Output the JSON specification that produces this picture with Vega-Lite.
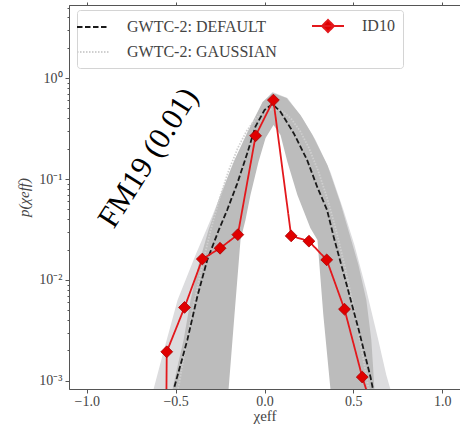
{
  "$schema": "https://vega.github.io/schema/vega-lite/v6.json",
  "autosize": "none",
  "width": 391,
  "height": 384,
  "padding": {"left": 69, "top": 5, "right": 0, "bottom": 38},
  "background": "white",
  "config": {
    "view": {"stroke": null},
    "axis": {"grid": false, "zindex": 1, "labelFont": "Liberation Serif", "titleFont": "Liberation Serif", "labelFontSize": 14, "titleFontSize": 15, "titleFontWeight": "normal", "labelColor": "#444", "titleColor": "#444", "tickColor": "#555", "domainColor": "#555"},
    "legend": {"orient": "none", "legendX": 8, "legendY": 5, "columns": 2, "columnPadding": 31, "rowPadding": 8, "padding": 8, "symbolSize": 100, "symbolStrokeWidth": 2, "labelFont": "Liberation Serif", "labelFontSize": 16, "labelColor": "#444", "labelOffset": 26, "strokeColor": "#d4d4d4", "fillColor": "white", "cornerRadius": 3}
  },
  "datasets": {
    "bands": [
      {"band": "light", "x": -0.635, "p": 0.00073}, {"band": "light", "x": -0.624, "p": 0.00083}, {"band": "light", "x": -0.573, "p": 0.00181}, {"band": "light", "x": -0.489, "p": 0.00634}, {"band": "light", "x": -0.388, "p": 0.0177}, {"band": "light", "x": -0.292, "p": 0.044}, {"band": "light", "x": -0.191, "p": 0.123}, {"band": "light", "x": -0.096, "p": 0.292}, {"band": "light", "x": -0.011, "p": 0.565}, {"band": "light", "x": 0.045, "p": 0.726}, {"band": "light", "x": 0.129, "p": 0.634}, {"band": "light", "x": 0.213, "p": 0.402}, {"band": "light", "x": 0.287, "p": 0.243}, {"band": "light", "x": 0.371, "p": 0.117}, {"band": "light", "x": 0.444, "p": 0.0493}, {"band": "light", "x": 0.506, "p": 0.0222}, {"band": "light", "x": 0.573, "p": 0.00796}, {"band": "light", "x": 0.64, "p": 0.00255}, {"band": "light", "x": 0.685, "p": 0.00115}, {"band": "light", "x": 0.708, "p": 0.00083}, {"band": "light", "x": 0.72, "p": 0.00073},
      {"band": "dark", "x": -0.528, "p": 0.00073}, {"band": "dark", "x": -0.517, "p": 0.00083}, {"band": "dark", "x": -0.494, "p": 0.00128}, {"band": "dark", "x": -0.455, "p": 0.00255}, {"band": "dark", "x": -0.416, "p": 0.00634}, {"band": "dark", "x": -0.371, "p": 0.0141}, {"band": "dark", "x": -0.315, "p": 0.0313}, {"band": "dark", "x": -0.247, "p": 0.0694}, {"band": "dark", "x": -0.169, "p": 0.154}, {"band": "dark", "x": -0.084, "p": 0.32}, {"band": "dark", "x": -0.011, "p": 0.578}, {"band": "dark", "x": 0.045, "p": 0.71}, {"band": "dark", "x": 0.124, "p": 0.634}, {"band": "dark", "x": 0.202, "p": 0.43}, {"band": "dark", "x": 0.27, "p": 0.273}, {"band": "dark", "x": 0.354, "p": 0.138}, {"band": "dark", "x": 0.427, "p": 0.0578}, {"band": "dark", "x": 0.483, "p": 0.0267}, {"band": "dark", "x": 0.528, "p": 0.0141}, {"band": "dark", "x": 0.573, "p": 0.00634}, {"band": "dark", "x": 0.601, "p": 0.00255}, {"band": "dark", "x": 0.612, "p": 0.00128}, {"band": "dark", "x": 0.618, "p": 0.00083}, {"band": "dark", "x": 0.624, "p": 0.00073},
      {"band": "lower", "x": -0.213, "p": 0.00073}, {"band": "lower", "x": -0.202, "p": 0.00083}, {"band": "lower", "x": -0.169, "p": 0.0045}, {"band": "lower", "x": -0.135, "p": 0.0249}, {"band": "lower", "x": -0.107, "p": 0.0393}, {"band": "lower", "x": -0.079, "p": 0.0694}, {"band": "lower", "x": -0.034, "p": 0.147}, {"band": "lower", "x": 0.006, "p": 0.255}, {"band": "lower", "x": 0.051, "p": 0.343}, {"band": "lower", "x": 0.09, "p": 0.273}, {"band": "lower", "x": 0.129, "p": 0.147}, {"band": "lower", "x": 0.185, "p": 0.0694}, {"band": "lower", "x": 0.258, "p": 0.0327}, {"band": "lower", "x": 0.298, "p": 0.0249}, {"band": "lower", "x": 0.331, "p": 0.0045}, {"band": "lower", "x": 0.371, "p": 0.00083}, {"band": "lower", "x": 0.382, "p": 0.00073}
    ],
    "curves": [
      {"series": "GWTC-2: Gaussian", "x": -0.5, "p": 0.0006}, {"series": "GWTC-2: Gaussian", "x": -0.45, "p": 0.0019}, {"series": "GWTC-2: Gaussian", "x": -0.4, "p": 0.0055}, {"series": "GWTC-2: Gaussian", "x": -0.35, "p": 0.0141}, {"series": "GWTC-2: Gaussian", "x": -0.3, "p": 0.0325}, {"series": "GWTC-2: Gaussian", "x": -0.25, "p": 0.067}, {"series": "GWTC-2: Gaussian", "x": -0.2, "p": 0.123}, {"series": "GWTC-2: Gaussian", "x": -0.15, "p": 0.203}, {"series": "GWTC-2: Gaussian", "x": -0.1, "p": 0.3}, {"series": "GWTC-2: Gaussian", "x": -0.05, "p": 0.396}, {"series": "GWTC-2: Gaussian", "x": 0.0, "p": 0.468}, {"series": "GWTC-2: Gaussian", "x": 0.05, "p": 0.495}, {"series": "GWTC-2: Gaussian", "x": 0.1, "p": 0.468}, {"series": "GWTC-2: Gaussian", "x": 0.15, "p": 0.396}, {"series": "GWTC-2: Gaussian", "x": 0.2, "p": 0.3}, {"series": "GWTC-2: Gaussian", "x": 0.25, "p": 0.203}, {"series": "GWTC-2: Gaussian", "x": 0.3, "p": 0.123}, {"series": "GWTC-2: Gaussian", "x": 0.35, "p": 0.067}, {"series": "GWTC-2: Gaussian", "x": 0.4, "p": 0.0325}, {"series": "GWTC-2: Gaussian", "x": 0.45, "p": 0.0141}, {"series": "GWTC-2: Gaussian", "x": 0.5, "p": 0.0055}, {"series": "GWTC-2: Gaussian", "x": 0.55, "p": 0.0019}, {"series": "GWTC-2: Gaussian", "x": 0.6, "p": 0.0006},
      {"series": "GWTC-2: Default", "x": -0.517, "p": 0.00073}, {"series": "GWTC-2: Default", "x": -0.51, "p": 0.00083}, {"series": "GWTC-2: Default", "x": -0.434, "p": 0.00255}, {"series": "GWTC-2: Default", "x": -0.378, "p": 0.00684}, {"series": "GWTC-2: Default", "x": -0.322, "p": 0.0158}, {"series": "GWTC-2: Default", "x": -0.257, "p": 0.0313}, {"series": "GWTC-2: Default", "x": -0.21, "p": 0.0493}, {"series": "GWTC-2: Default", "x": -0.153, "p": 0.0906}, {"series": "GWTC-2: Default", "x": -0.097, "p": 0.18}, {"series": "GWTC-2: Default", "x": -0.051, "p": 0.33}, {"series": "GWTC-2: Default", "x": 0.0, "p": 0.482}, {"series": "GWTC-2: Default", "x": 0.045, "p": 0.553}, {"series": "GWTC-2: Default", "x": 0.09, "p": 0.464}, {"series": "GWTC-2: Default", "x": 0.165, "p": 0.283}, {"series": "GWTC-2: Default", "x": 0.24, "p": 0.154}, {"series": "GWTC-2: Default", "x": 0.296, "p": 0.0839}, {"series": "GWTC-2: Default", "x": 0.352, "p": 0.0493}, {"series": "GWTC-2: Default", "x": 0.389, "p": 0.0268}, {"series": "GWTC-2: Default", "x": 0.465, "p": 0.00859}, {"series": "GWTC-2: Default", "x": 0.53, "p": 0.0032}, {"series": "GWTC-2: Default", "x": 0.596, "p": 0.0011}, {"series": "GWTC-2: Default", "x": 0.61, "p": 0.00083}, {"series": "GWTC-2: Default", "x": 0.618, "p": 0.00073},
      {"series": "ID10", "x": -0.552, "p": 0.0007}, {"series": "ID10", "x": -0.55, "p": 0.00194}, {"series": "ID10", "x": -0.45, "p": 0.00534}, {"series": "ID10", "x": -0.35, "p": 0.0161}, {"series": "ID10", "x": -0.25, "p": 0.0206}, {"series": "ID10", "x": -0.15, "p": 0.0281}, {"series": "ID10", "x": -0.05, "p": 0.268}, {"series": "ID10", "x": 0.05, "p": 0.605}, {"series": "ID10", "x": 0.15, "p": 0.0273}, {"series": "ID10", "x": 0.25, "p": 0.0242}, {"series": "ID10", "x": 0.35, "p": 0.0158}, {"series": "ID10", "x": 0.45, "p": 0.00513}, {"series": "ID10", "x": 0.55, "p": 0.00109}, {"series": "ID10", "x": 0.585, "p": 0.0007}
    ],
    "notes": [{"label": "FM19 (0.01)", "x": -0.652, "p": 0.161}]
  },
  "layer": [
    {
      "data": {"name": "bands"},
      "transform": [{"filter": {"field": "band", "equal": "light"}}],
      "mark": {"type": "area", "clip": true, "color": "#dcdcde"},
      "encoding": {
        "x": {"field": "x", "type": "quantitative", "scale": {"domain": [-1.1, 1.1], "nice": false, "zero": false},
              "axis": {"orient": "bottom", "values": [-1, -0.5, 0, 0.5, 1], "format": ".1f", "tickSize": 4, "labelPadding": 1, "title": "χeff", "titlePadding": 0}},
        "y": {"field": "p", "type": "quantitative", "scale": {"type": "log", "domain": [0.00083, 5.3], "nice": false},
              "axis": {"orient": "left", "values": [0.001, 0.01, 0.1, 1], "tickSize": 4, "labelPadding": 3, "labelExpr": "datum.value >= 1 ? '10⁰' : datum.value >= 0.1 ? '10⁻¹' : datum.value >= 0.01 ? '10⁻²' : '10⁻³'", "title": "p(χeff)", "titleFontStyle": "italic", "titlePadding": 7}},
        "y2": {"datum": 0.00001}
      }
    },
    {
      "data": {"name": "bands"},
      "transform": [{"filter": {"field": "band", "equal": "dark"}}],
      "mark": {"type": "area", "clip": true, "color": "#bcbcbc"},
      "encoding": {
        "x": {"field": "x", "type": "quantitative", "axis": {"orient": "top", "values": [-1, -0.5, 0, 0.5, 1], "labels": false, "tickSize": 3, "title": null}},
        "y": {"field": "p", "type": "quantitative", "axis": {"orient": "left", "values": [0.002, 0.003, 0.004, 0.005, 0.006, 0.007, 0.008, 0.009, 0.02, 0.03, 0.04, 0.05, 0.06, 0.07, 0.08, 0.09, 0.2, 0.3, 0.4, 0.5, 0.6, 0.7, 0.8, 0.9, 2, 3, 4, 5], "labels": false, "tickSize": 2, "title": null}},
        "y2": {"datum": 0.00001}
      }
    },
    {
      "data": {"name": "bands"},
      "transform": [{"filter": {"field": "band", "equal": "lower"}}],
      "mark": {"type": "area", "clip": true, "color": "white"},
      "encoding": {
        "x": {"field": "x", "type": "quantitative", "axis": null},
        "y": {"field": "p", "type": "quantitative", "axis": null},
        "y2": {"datum": 0.00001}
      }
    },
    {
      "data": {"name": "curves"},
      "mark": {"type": "line", "clip": true, "strokeWidth": 1.8},
      "encoding": {
        "x": {"field": "x", "type": "quantitative", "axis": null},
        "y": {"field": "p", "type": "quantitative", "axis": null},
        "color": {"field": "series", "type": "nominal",
                  "scale": {"domain": ["GWTC-2: Default", "GWTC-2: Gaussian", "ID10"], "range": ["#1a1a1a", "#cfcfcf", "#e3181c"]},
                  "legend": {"title": null, "values": ["GWTC-2: Default", "GWTC-2: Gaussian", "ID10"], "labelExpr": "datum.label == 'ID10' ? 'ID10' : upper(datum.label)",
                             "encode": {"symbols": {"update": {"shape": {"signal": "datum.value == 'ID10' ? 'M-3.2,0L3.2,0M0,-1.2L1.2,0L0,1.2L-1.2,0Z' : 'M-3.2,0L3.2,0'"}, "fill": {"signal": "datum.value == 'ID10' ? '#e00000' : 'transparent'"}}}}}},
        "strokeDash": {"field": "series", "type": "nominal",
                       "scale": {"domain": ["GWTC-2: Default", "GWTC-2: Gaussian", "ID10"], "range": [[5.5, 2.5], [1.5, 1.5], [1, 0]]},
                       "legend": {"title": null, "values": ["GWTC-2: Default", "GWTC-2: Gaussian", "ID10"]}},
        "order": {"field": "x", "type": "quantitative"}
      }
    },
    {
      "data": {"name": "curves"},
      "transform": [{"filter": {"and": [{"field": "series", "equal": "ID10"}, {"field": "p", "gte": 0.001}]}}],
      "mark": {"type": "point", "shape": "diamond", "filled": true, "size": 140, "color": "#e00000", "stroke": "#a80000", "strokeWidth": 0.8, "opacity": 1},
      "encoding": {
        "x": {"field": "x", "type": "quantitative", "axis": null},
        "y": {"field": "p", "type": "quantitative", "axis": null}
      }
    },
    {
      "data": {"name": "notes"},
      "mark": {"type": "text", "font": "Liberation Serif", "fontSize": 31, "angle": -57.6, "align": "center", "baseline": "middle", "color": "black"},
      "encoding": {
        "x": {"field": "x", "type": "quantitative", "axis": null},
        "y": {"field": "p", "type": "quantitative", "axis": null},
        "text": {"field": "label"}
      }
    }
  ],
  "resolve": {"axis": {"x": "independent", "y": "independent"}}
}
